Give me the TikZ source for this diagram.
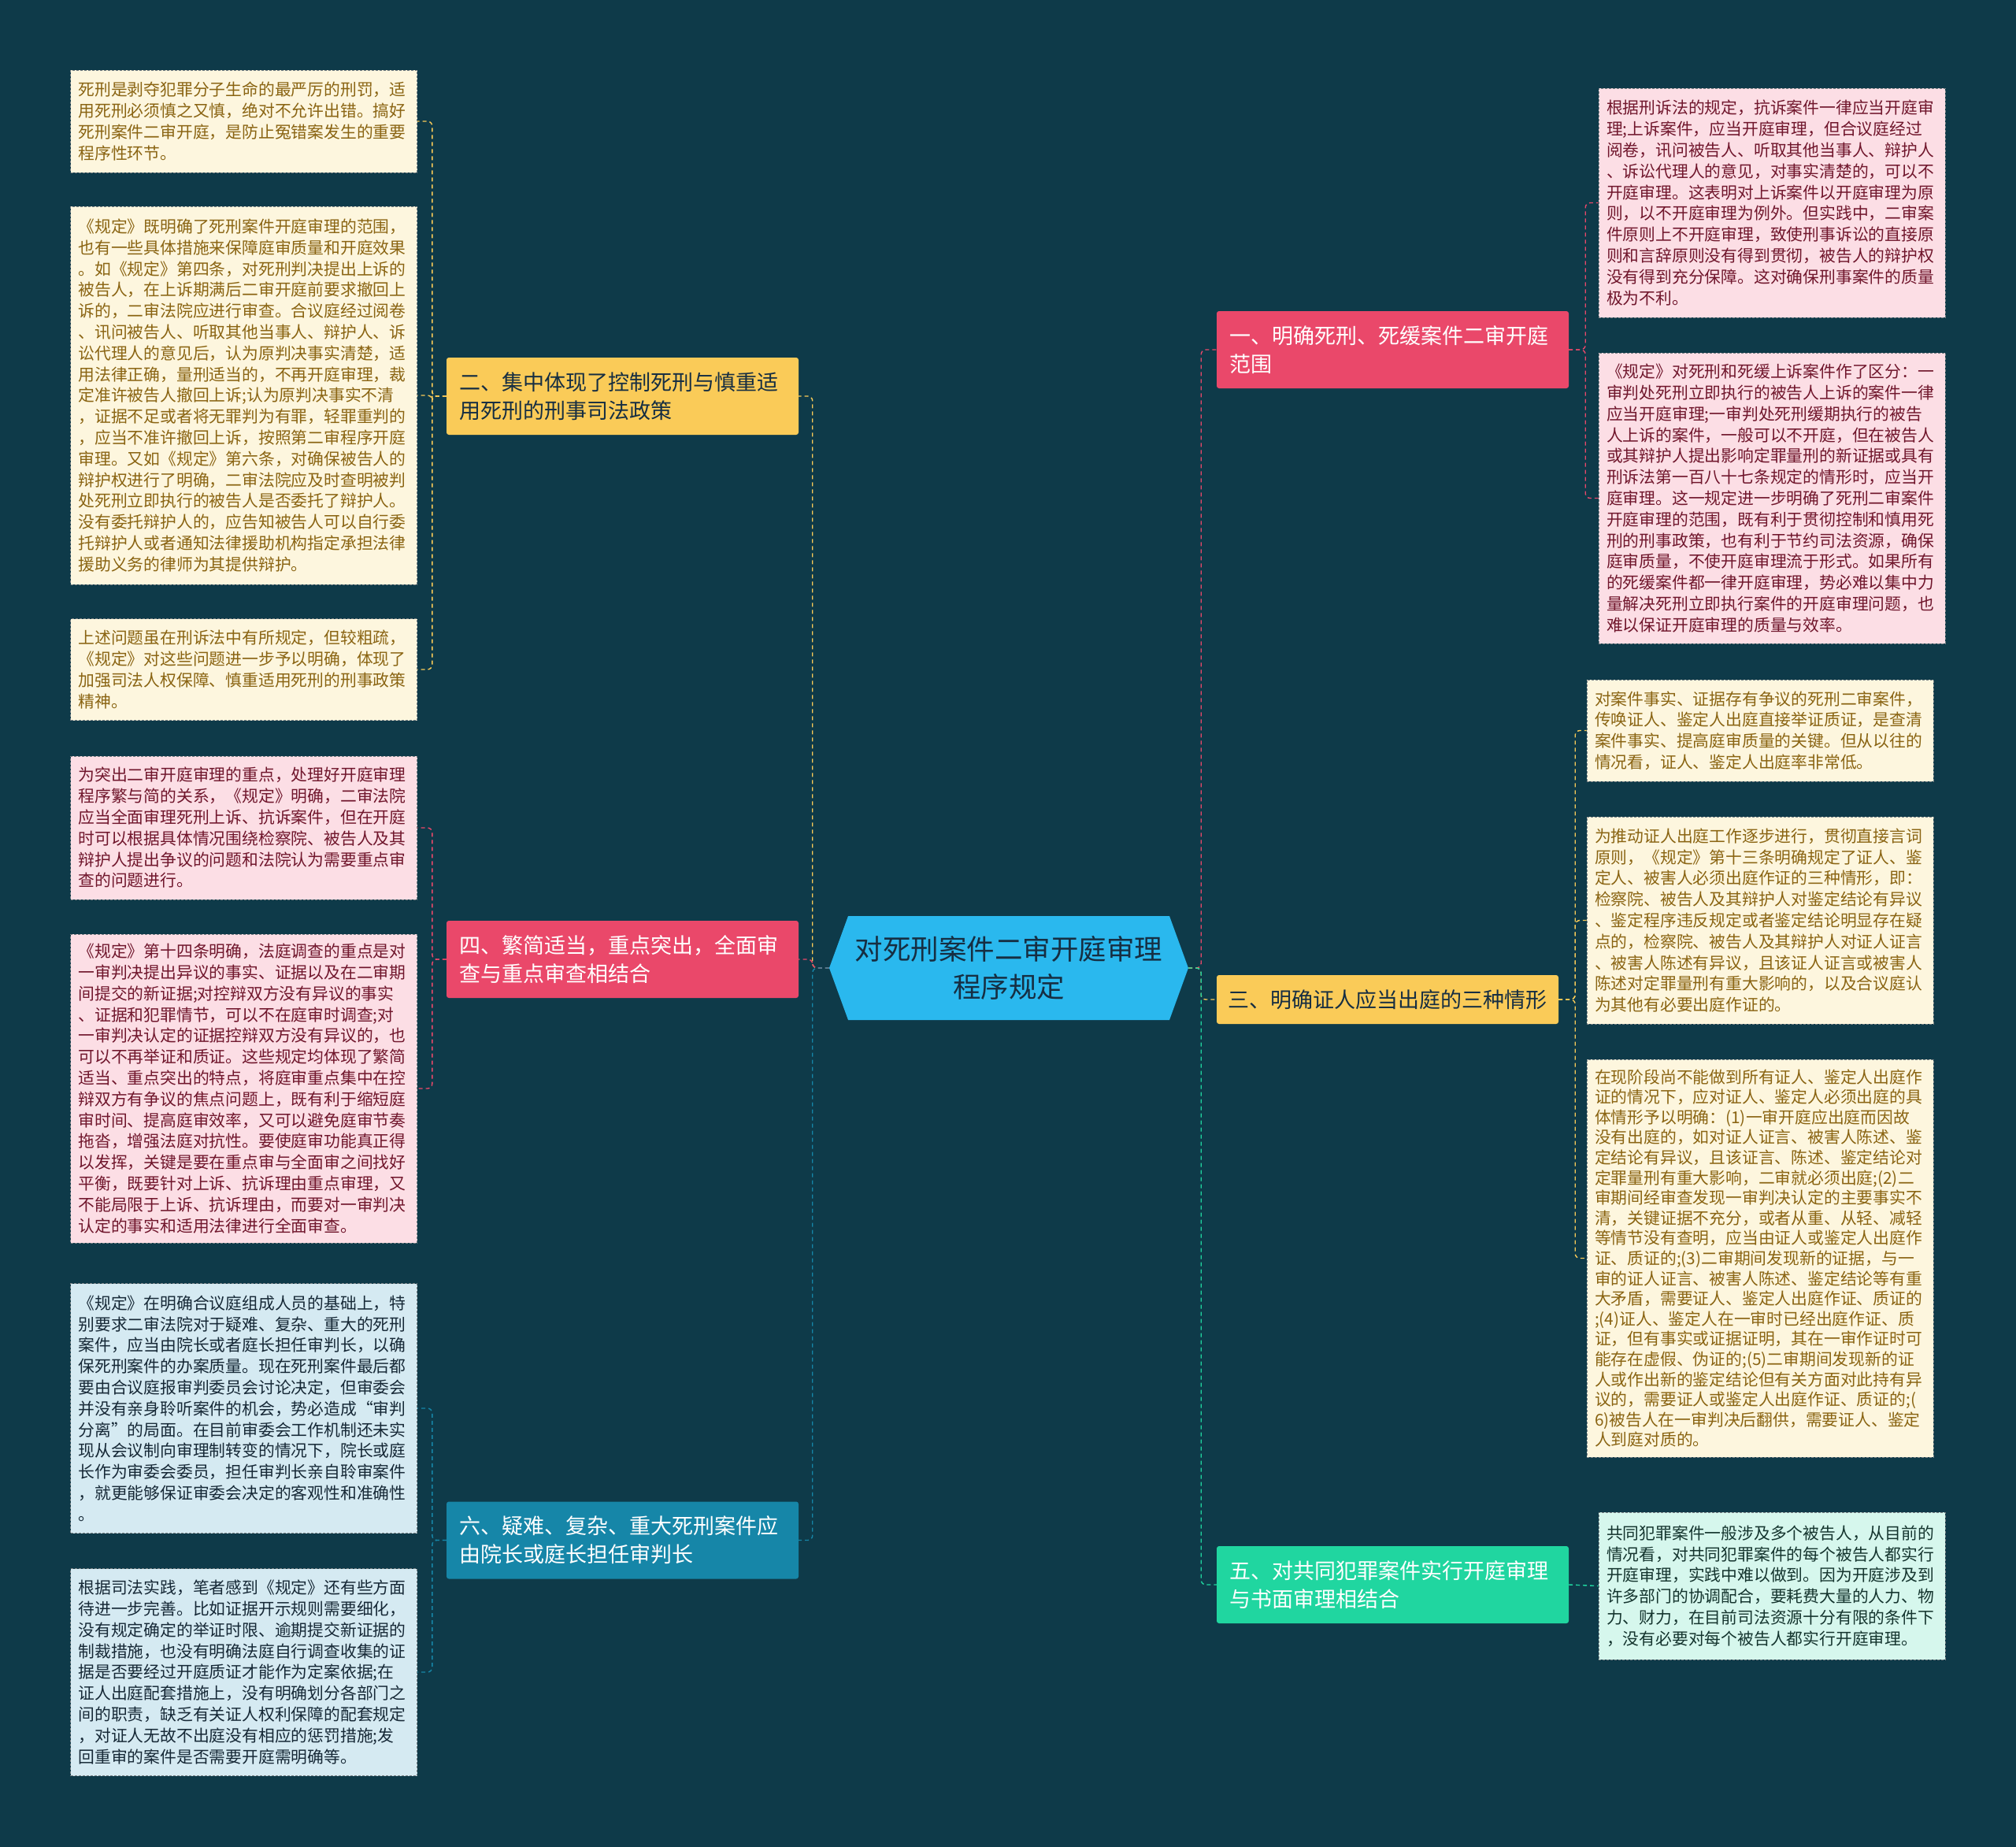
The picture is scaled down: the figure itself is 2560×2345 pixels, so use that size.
\documentclass[tikz,border=0pt]{standalone}
\usepackage{fontspec}
\setmainfont{Noto Sans CJK SC}
\usetikzlibrary{shapes.symbols}
\definecolor{bgTeal}{RGB}{14,58,73}
\definecolor{rootBlue}{RGB}{42,184,238}
\definecolor{secYellow}{RGB}{250,203,88}
\definecolor{secPink}{RGB}{234,72,106}
\definecolor{secBlue}{RGB}{22,134,168}
\definecolor{secGreen}{RGB}{32,214,160}
\definecolor{leafYellow}{RGB}{253,246,222}
\definecolor{leafPink}{RGB}{252,222,229}
\definecolor{leafBlue}{RGB}{213,234,242}
\definecolor{leafGreen}{RGB}{214,247,237}
\definecolor{inkYellow}{RGB}{138,100,18}
\definecolor{inkPink}{RGB}{112,22,44}
\definecolor{inkBlue}{RGB}{22,40,54}
\definecolor{inkGreen}{RGB}{20,52,46}
\definecolor{inkRoot}{RGB}{22,46,66}
\definecolor{rimGray}{RGB}{120,128,132}

\begin{document}
\begin{tikzpicture}[x=1pt, y=-1pt,
  root/.style={shape=signal, signal to=west and east, signal pointer angle=140,
               fill=rootBlue, minimum width=456pt, minimum height=132pt,
               align=center, text=inkRoot, font=\fontsize{35.5}{48}\selectfont},
  sec/.style={rounded corners=3pt, text width=415pt, inner xsep=16pt,
              minimum height=98pt, align=left, font=\fontsize{27}{36}\selectfont},
  leaf/.style={draw=rimGray, dash pattern=on 3pt off 2pt, line width=0.8pt,
               text width=420pt, inner xsep=10pt, inner ysep=5pt, align=left,
               font=\fontsize{20.8}{26.8}\selectfont},
  leafY/.style={leaf, fill=leafYellow, text=inkYellow},
  leafP/.style={leaf, fill=leafPink, text=inkPink},
  leafB/.style={leaf, fill=leafBlue, text=inkBlue},
  leafG/.style={leaf, fill=leafGreen, text=inkGreen},
  link/.style={dash pattern=on 5pt off 4pt, line width=1.4pt, rounded corners=6pt},
]
  \fill[bgTeal] (0,0) rectangle (2560,2345);
  \useasboundingbox (0,0) rectangle (2560,2345);

  \node[root] (root) at (1281,1229) {对死刑案件二审开庭审理\\程序规定};

  \node[sec, fill=secYellow, text=inkRoot] (s2) at (790.5,503) {
    二、集中体现了控制死刑与慎重适\\用死刑的刑事司法政策};
  \node[sec, fill=secPink, text=white] (s4) at (790.5,1218) {
    四、繁简适当，重点突出，全面审\\查与重点审查相结合};
  \node[sec, fill=secBlue, text=white] (s6) at (790.5,1955.5) {
    六、疑难、复杂、重大死刑案件应\\由院长或庭长担任审判长};
  \node[sec, fill=secPink, text=white] (s1) at (1768.5,444) {
    一、明确死刑、死缓案件二审开庭\\范围};
  \node[sec, fill=secYellow, text=inkRoot, text width=405pt, inner xsep=14.5pt, minimum height=62pt] (s3) at (1762,1269) {
    三、明确证人应当出庭的三种情形};
  \node[sec, fill=secGreen, text=white] (s5) at (1768.5,2012) {
    五、对共同犯罪案件实行开庭审理\\与书面审理相结合};

  \node[leafY, minimum height=130pt] (n2a) at (309.5,154) {
    死刑是剥夺犯罪分子生命的最严厉的刑罚，适\\
    用死刑必须慎之又慎，绝对不允许出错。搞好\\
    死刑案件二审开庭，是防止冤错案发生的重要\\
    程序性环节。};
  \node[leafY, minimum height=480pt] (n2b) at (309.5,502) {
    《规定》既明确了死刑案件开庭审理的范围，\\
    也有一些具体措施来保障庭审质量和开庭效果\\
    。如《规定》第四条，对死刑判决提出上诉的\\
    被告人，在上诉期满后二审开庭前要求撤回上\\
    诉的，二审法院应进行审查。合议庭经过阅卷\\
    、讯问被告人、听取其他当事人、辩护人、诉\\
    讼代理人的意见后，认为原判决事实清楚，适\\
    用法律正确，量刑适当的，不再开庭审理，裁\\
    定准许被告人撤回上诉;认为原判决事实不清\\
    ，证据不足或者将无罪判为有罪，轻罪重判的\\
    ，应当不准许撤回上诉，按照第二审程序开庭\\
    审理。又如《规定》第六条，对确保被告人的\\
    辩护权进行了明确，二审法院应及时查明被判\\
    处死刑立即执行的被告人是否委托了辩护人。\\
    没有委托辩护人的，应告知被告人可以自行委\\
    托辩护人或者通知法律援助机构指定承担法律\\
    援助义务的律师为其提供辩护。};
  \node[leafY, minimum height=129pt] (n2c) at (309.5,850) {
    上述问题虽在刑诉法中有所规定，但较粗疏，\\
    《规定》对这些问题进一步予以明确，体现了\\
    加强司法人权保障、慎重适用死刑的刑事政策\\
    精神。};
  \node[leafP, minimum height=182pt] (n4a) at (309.5,1051) {
    为突出二审开庭审理的重点，处理好开庭审理\\
    程序繁与简的关系，《规定》明确，二审法院\\
    应当全面审理死刑上诉、抗诉案件，但在开庭\\
    时可以根据具体情况围绕检察院、被告人及其\\
    辩护人提出争议的问题和法院认为需要重点审\\
    查的问题进行。};
  \node[leafP, minimum height=392pt] (n4b) at (309.5,1382) {
    《规定》第十四条明确，法庭调查的重点是对\\
    一审判决提出异议的事实、证据以及在二审期\\
    间提交的新证据;对控辩双方没有异议的事实\\
    、证据和犯罪情节，可以不在庭审时调查;对\\
    一审判决认定的证据控辩双方没有异议的，也\\
    可以不再举证和质证。这些规定均体现了繁简\\
    适当、重点突出的特点，将庭审重点集中在控\\
    辩双方有争议的焦点问题上，既有利于缩短庭\\
    审时间、提高庭审效率，又可以避免庭审节奏\\
    拖沓，增强法庭对抗性。要使庭审功能真正得\\
    以发挥，关键是要在重点审与全面审之间找好\\
    平衡，既要针对上诉、抗诉理由重点审理，又\\
    不能局限于上诉、抗诉理由，而要对一审判决\\
    认定的事实和适用法律进行全面审查。};
  \node[leafB, minimum height=317pt] (n6a) at (309.5,1788) {
    《规定》在明确合议庭组成人员的基础上，特\\
    别要求二审法院对于疑难、复杂、重大的死刑\\
    案件，应当由院长或者庭长担任审判长，以确\\
    保死刑案件的办案质量。现在死刑案件最后都\\
    要由合议庭报审判委员会讨论决定，但审委会\\
    并没有亲身聆听案件的机会，势必造成“审判\\
    分离”的局面。在目前审委会工作机制还未实\\
    现从会议制向审理制转变的情况下，院长或庭\\
    长作为审委会委员，担任审判长亲自聆审案件\\
    ，就更能够保证审委会决定的客观性和准确性\\
    。};
  \node[leafB, minimum height=263pt] (n6b) at (309.5,2123) {
    根据司法实践，笔者感到《规定》还有些方面\\
    待进一步完善。比如证据开示规则需要细化，\\
    没有规定确定的举证时限、逾期提交新证据的\\
    制裁措施，也没有明确法庭自行调查收集的证\\
    据是否要经过开庭质证才能作为定案依据;在\\
    证人出庭配套措施上，没有明确划分各部门之\\
    间的职责，缺乏有关证人权利保障的配套规定\\
    ，对证人无故不出庭没有相应的惩罚措施;发\\
    回重审的案件是否需要开庭需明确等。};

  \node[leafP, minimum height=291pt] (n1a) at (2250,257.5) {
    根据刑诉法的规定，抗诉案件一律应当开庭审\\
    理;上诉案件，应当开庭审理，但合议庭经过\\
    阅卷，讯问被告人、听取其他当事人、辩护人\\
    、诉讼代理人的意见，对事实清楚的，可以不\\
    开庭审理。这表明对上诉案件以开庭审理为原\\
    则，以不开庭审理为例外。但实践中，二审案\\
    件原则上不开庭审理，致使刑事诉讼的直接原\\
    则和言辞原则没有得到贯彻，被告人的辩护权\\
    没有得到充分保障。这对确保刑事案件的质量\\
    极为不利。};
  \node[leafP, minimum height=369pt] (n1b) at (2250,632.5) {
    《规定》对死刑和死缓上诉案件作了区分：一\\
    审判处死刑立即执行的被告人上诉的案件一律\\
    应当开庭审理;一审判处死刑缓期执行的被告\\
    人上诉的案件，一般可以不开庭，但在被告人\\
    或其辩护人提出影响定罪量刑的新证据或具有\\
    刑诉法第一百八十七条规定的情形时，应当开\\
    庭审理。这一规定进一步明确了死刑二审案件\\
    开庭审理的范围，既有利于贯彻控制和慎用死\\
    刑的刑事政策，也有利于节约司法资源，确保\\
    庭审质量，不使开庭审理流于形式。如果所有\\
    的死缓案件都一律开庭审理，势必难以集中力\\
    量解决死刑立即执行案件的开庭审理问题，也\\
    难以保证开庭审理的质量与效率。};
  \node[leafY, minimum height=129pt] (n3a) at (2235,927.5) {
    对案件事实、证据存有争议的死刑二审案件，\\
    传唤证人、鉴定人出庭直接举证质证，是查清\\
    案件事实、提高庭审质量的关键。但从以往的\\
    情况看，证人、鉴定人出庭率非常低。};
  \node[leafY, minimum height=263pt] (n3b) at (2235,1168.5) {
    为推动证人出庭工作逐步进行，贯彻直接言词\\
    原则，《规定》第十三条明确规定了证人、鉴\\
    定人、被害人必须出庭作证的三种情形，即：\\
    检察院、被告人及其辩护人对鉴定结论有异议\\
    、鉴定程序违反规定或者鉴定结论明显存在疑\\
    点的，检察院、被告人及其辩护人对证人证言\\
    、被害人陈述有异议，且该证人证言或被害人\\
    陈述对定罪量刑有重大影响的，以及合议庭认\\
    为其他有必要出庭作证的。};
  \node[leafY, minimum height=505pt, font=\fontsize{20.8}{25.6}\selectfont] (n3c) at (2235,1597.5) {
    在现阶段尚不能做到所有证人、鉴定人出庭作\\
    证的情况下，应对证人、鉴定人必须出庭的具\\
    体情形予以明确：(1)一审开庭应出庭而因故\\
    没有出庭的，如对证人证言、被害人陈述、鉴\\
    定结论有异议，且该证言、陈述、鉴定结论对\\
    定罪量刑有重大影响，二审就必须出庭;(2)二\\
    审期间经审查发现一审判决认定的主要事实不\\
    清，关键证据不充分，或者从重、从轻、减轻\\
    等情节没有查明，应当由证人或鉴定人出庭作\\
    证、质证的;(3)二审期间发现新的证据，与一\\
    审的证人证言、被害人陈述、鉴定结论等有重\\
    大矛盾，需要证人、鉴定人出庭作证、质证的\\
    ;(4)证人、鉴定人在一审时已经出庭作证、质\\
    证，但有事实或证据证明，其在一审作证时可\\
    能存在虚假、伪证的;(5)二审期间发现新的证\\
    人或作出新的鉴定结论但有关方面对此持有异\\
    议的，需要证人或鉴定人出庭作证、质证的;(\\
    6)被告人在一审判决后翻供，需要证人、鉴定\\
    人到庭对质的。};
  \node[leafG, minimum height=187pt] (n5a) at (2250,2013.5) {
    共同犯罪案件一般涉及多个被告人，从目前的\\
    情况看，对共同犯罪案件的每个被告人都实行\\
    开庭审理，实践中难以做到。因为开庭涉及到\\
    许多部门的协调配合，要耗费大量的人力、物\\
    力、财力，在目前司法资源十分有限的条件下\\
    ，没有必要对每个被告人都实行开庭审理。};

  \draw[link, secYellow] (root.west) -- ++(-21,0) |- (s2.east);
  \draw[link, secPink] (root.west) -- ++(-21,0) |- (s4.east);
  \draw[link, secBlue] (root.west) -- ++(-21,0) |- (s6.east);
  \draw[link, secPink] (root.east) -- ++(16,0) |- (s1.west);
  \draw[link, secYellow] (root.east) -- ++(16,0) |- (s3.west);
  \draw[link, secGreen] (root.east) -- ++(16,0) |- (s5.west);

  \draw[link, secYellow] (s2.west) -- ++(-18,0) |- (n2a.east);
  \draw[link, secYellow] (s2.west) -- ++(-18,0) |- (n2b.east);
  \draw[link, secYellow] (s2.west) -- ++(-18,0) |- (n2c.east);
  \draw[link, secPink] (s4.west) -- ++(-18,0) |- (n4a.east);
  \draw[link, secPink] (s4.west) -- ++(-18,0) |- (n4b.east);
  \draw[link, secBlue] (s6.west) -- ++(-18,0) |- (n6a.east);
  \draw[link, secBlue] (s6.west) -- ++(-18,0) |- (n6b.east);
  \draw[link, secPink] (s1.east) -- ++(21,0) |- (n1a.west);
  \draw[link, secPink] (s1.east) -- ++(21,0) |- (n1b.west);
  \draw[link, secYellow] (s3.east) -- ++(21,0) |- (n3a.west);
  \draw[link, secYellow] (s3.east) -- ++(21,0) |- (n3b.west);
  \draw[link, secYellow] (s3.east) -- ++(21,0) |- (n3c.west);
  \draw[link, secGreen] (s5.east) -- (n5a.west);
\end{tikzpicture}
\end{document}
